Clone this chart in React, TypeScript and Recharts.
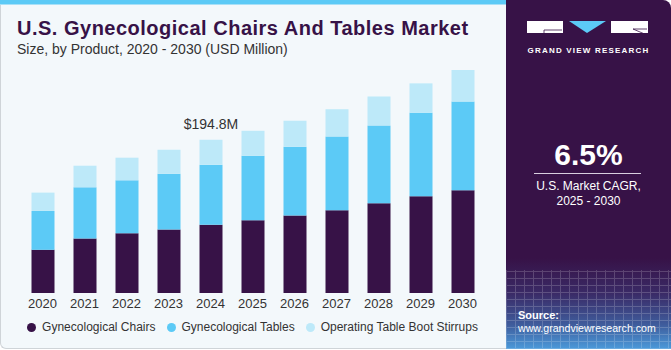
import React from 'react';
import { BarChart, Bar, XAxis, YAxis, Legend, LabelList } from 'recharts';

const years = ['2020', '2021', '2022', '2023', '2024', '2025', '2026', '2027', '2028', '2029', '2030'];
const chairs = [54.9, 69.3, 76.0, 80.7, 86.6, 92.5, 98.5, 105.2, 114.1, 122.9, 130.5];
const tables = [49.4, 65.0, 67.2, 71.0, 76.5, 82.0, 87.5, 93.8, 98.9, 106.1, 112.8];
const stirrups = [23.3, 27.5, 28.8, 30.4, 31.7, 31.7, 33.0, 34.6, 36.8, 37.5, 40.2];
const notes = ['', '', '', '', '$194.8M', '', '', '', '', '', ''];

const seriesNames = ['Gynecological Chairs', 'Gynecological Tables', 'Operating Table Boot Stirrups'];
const colors = ['#371247', '#5ccaf6', '#bde9f9'];

const data = years.map((y, i) => ({
  year: y,
  chairs: chairs[i],
  tables: tables[i],
  stirrups: stirrups[i],
  note: notes[i],
}));

const FONT = '"Liberation Sans", Arial, sans-serif';

const LegendContent = () => (
  <div style={{ display: 'flex', justifyContent: 'center', alignItems: 'center', fontFamily: FONT, fontSize: 12, color: '#333' }}>
    {seriesNames.map((n, i) => (
      <div key={n} style={{ display: 'flex', alignItems: 'center', marginRight: i < 2 ? 11 : 0 }}>
        <span style={{ width: 9, height: 9, borderRadius: '50%', background: colors[i], display: 'inline-block', marginRight: 6 }} />
        <span>{n}</span>
      </div>
    ))}
  </div>
);

export default function App() {
  return (
    <div style={{ position: 'absolute', left: 0, top: 0, width: 671, height: 350, overflow: 'hidden', background: '#ffffff', fontFamily: FONT }}>
      {/* left panel */}
      <div style={{ position: 'absolute', left: 0, top: 0, width: 510, height: 349, background: '#f3f8fb', borderLeft: '1px solid #cfd4d8', borderBottom: '1px solid #cfd4d8', borderBottomLeftRadius: 6, boxSizing: 'border-box' }} />
      <div style={{ position: 'absolute', left: 0, top: 0, width: 510, height: 4, background: '#5ccaf6' }} />
      <div style={{ position: 'absolute', left: 0, top: 4, width: 510, height: 1, background: '#a8e0f7' }} />
      <div style={{ position: 'absolute', left: 17, top: 16, fontSize: 20, fontWeight: 700, color: '#371247', whiteSpace: 'nowrap', lineHeight: '24px', letterSpacing: 0.5 }}>
        U.S. Gynecological Chairs And Tables Market
      </div>
      <div style={{ position: 'absolute', left: 17, top: 40, fontSize: 14, color: '#333', whiteSpace: 'nowrap', lineHeight: '18px' }}>
        Size, by Product, 2020 - 2030 (USD Million)
      </div>
      <div style={{ position: 'absolute', left: 0, top: 0 }}>
        <BarChart width={505} height={350} data={data} margin={{ top: 57, right: 21.5, left: 21.5, bottom: 27 }}>
          <XAxis dataKey="year" height={30} axisLine={false} tickLine={false} tickMargin={0} tick={{ fontSize: 13, fill: '#333', fontFamily: FONT }} interval={0} />
          <YAxis hide domain={[0, 300]} />
          <Legend verticalAlign="middle" align="center" layout="horizontal" content={<LegendContent />} wrapperStyle={{ top: 320, left: 0, width: 505 }} />
          <Bar dataKey="chairs" stackId="a" fill={colors[0]} barSize={23} isAnimationActive={false} />
          <Bar dataKey="tables" stackId="a" fill={colors[1]} barSize={23} isAnimationActive={false} />
          <Bar dataKey="stirrups" stackId="a" fill={colors[2]} barSize={23} isAnimationActive={false}>
            <LabelList dataKey="note" position="top" offset={11} style={{ fontSize: 14, fill: '#333', fontFamily: FONT }} />
          </Bar>
        </BarChart>
      </div>
      {/* right panel */}
      <div style={{ position: 'absolute', left: 506, top: 0, width: 165, height: 349, borderTopRightRadius: 8, overflow: 'hidden', background: 'linear-gradient(180deg, #371247 0%, #371247 74%, #3a2a66 84%, #3f5c9c 93%, #4b9ada 100%)' }}>
        <div style={{ position: 'absolute', left: 0, top: 270, width: 165, height: 79, opacity: 0.18, backgroundImage: 'repeating-linear-gradient(90deg, #ffffff 0 1px, transparent 1px 9px), repeating-linear-gradient(0deg, #ffffff 0 1px, transparent 1px 7px)' }} />
        <svg width={165} height={60} style={{ position: 'absolute', left: 0, top: 0 }}>
          <rect x={21} y={21} width={36} height={12} fill="#ffffff" />
          <polyline points="56,30 38,30 38,33" fill="none" stroke="#371247" strokeWidth={0.8} />
          <polygon points="63,21 100,21 81,33" fill="#5ccaf6" />
          <rect x={105} y={21} width={37} height={12} fill="#ffffff" />
          <line x1={127} y1={29} x2={141} y2={35} stroke="#371247" strokeWidth={0.8} />
          <line x1={127} y1={29} x2={141} y2={29} stroke="#371247" strokeWidth={0.8} />
        </svg>
        <div style={{ position: 'absolute', left: 0, top: 46, width: 165, textAlign: 'center', color: '#ffffff', fontSize: 8, fontWeight: 700, letterSpacing: 1.2, whiteSpace: 'nowrap' }}>
          GRAND VIEW RESEARCH
        </div>
        <div style={{ position: 'absolute', left: 0, top: 138, width: 165, textAlign: 'center', color: '#ffffff', fontSize: 30, fontWeight: 700, lineHeight: '34px' }}>
          6.5%
        </div>
        <div style={{ position: 'absolute', left: 28, top: 173, width: 107, height: 1, background: '#d9cfe0' }} />
        <div style={{ position: 'absolute', left: 0, top: 179, width: 165, textAlign: 'center', color: '#ffffff', fontSize: 12, lineHeight: '15px' }}>
          U.S. Market CAGR,<br />2025 - 2030
        </div>
        <div style={{ position: 'absolute', left: 12, top: 309, color: '#ffffff', fontSize: 11, fontWeight: 700, lineHeight: '13px' }}>
          Source:
        </div>
        <div style={{ position: 'absolute', left: 12, top: 322, color: '#ffffff', fontSize: 10.6, lineHeight: '13px', whiteSpace: 'nowrap' }}>
          www.grandviewresearch.com
        </div>
      </div>
    </div>
  );
}
